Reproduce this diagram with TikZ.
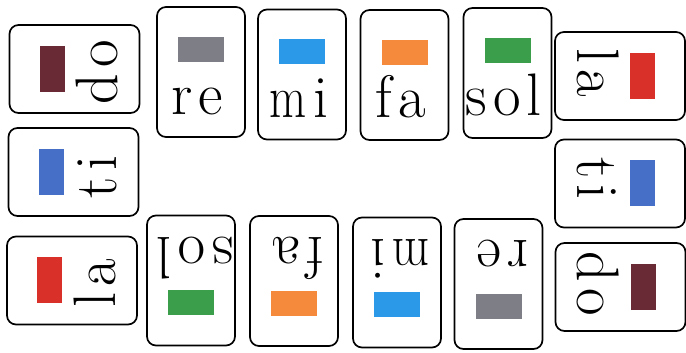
\documentclass[tikz,border=0pt]{standalone}
\usepackage{fontspec}
\usepackage{graphicx}
\definecolor{cdo}{HTML}{6A2A35}
\definecolor{cre}{HTML}{7E7E86}
\definecolor{cmi}{HTML}{2C98E8}
\definecolor{cfa}{HTML}{F58A3C}
\definecolor{csol}{HTML}{3A9E4A}
\definecolor{cla}{HTML}{D9302A}
\definecolor{cti}{HTML}{4670C8}
\newcommand\lsp{\hspace{6pt}}
\newcommand\condm{\scalebox{0.8}[1]{m}}
\tikzset{
  cardbox/.style={draw=black, line width=1.7pt, rounded corners=9pt, minimum width=88pt, minimum height=130pt, inner sep=0pt, fill=white},
  barbox/.style={minimum width=46pt, minimum height=25pt, inner sep=0pt, draw=none},
  cardtext/.style={anchor=base, inner sep=0pt, font=\fontsize{60}{60}\selectfont\rmfamily}
}
% name, x, y, rotation, colour, text, text shift
\newcommand\solfacard[7]{%
  \begin{scope}[shift={(#2,#3)}, rotate=#4, transform shape]
    \node[cardbox] (#1) at (0,0) {};
    \node[barbox, fill=#5] (#1-bar) at (0,22.5) {};
    \node[cardtext] (#1-txt) at (#7,-43) {#6};
  \end{scope}}
\begin{document}
\begin{tikzpicture}[x=1pt,y=1pt]
\useasboundingbox[fill=white] (0,0) rectangle (686,353);
% top row
\solfacard{re1}{201}{281}{0}{cre}{r\lsp e}{-4}
\solfacard{mi1}{302}{278.5}{0}{cmi}{\condm\lsp i}{-3}
\solfacard{fa1}{404.5}{278}{0}{cfa}{f\lsp a}{-4}
\solfacard{sol1}{507.5}{280}{0}{csol}{s\lsp o\lsp l}{-4}
% bottom row
\solfacard{sol2}{191}{72.5}{180}{csol}{s\lsp o\lsp l}{-4}
\solfacard{fa2}{294}{72}{180}{cfa}{f\lsp a}{-4}
\solfacard{mi2}{397}{70.5}{180}{cmi}{\condm\lsp i}{-3}
\solfacard{re2}{498.5}{69}{180}{cre}{r\lsp e}{-4}
% left column
\solfacard{do1}{74.5}{284}{90}{cdo}{d\lsp o}{-3}
\solfacard{ti1}{73.5}{181}{90}{cti}{t\lsp i}{-5}
\solfacard{la1}{72}{72.5}{90}{cla}{l\lsp a}{-3}
% right column
\solfacard{la2}{620}{277}{-90}{cla}{l\lsp a}{-3}
\solfacard{ti2}{620}{169.5}{-90}{cti}{t\lsp i}{-5}
\solfacard{do2}{620.5}{66}{-90}{cdo}{d\lsp o}{-3}
\end{tikzpicture}
\end{document}
